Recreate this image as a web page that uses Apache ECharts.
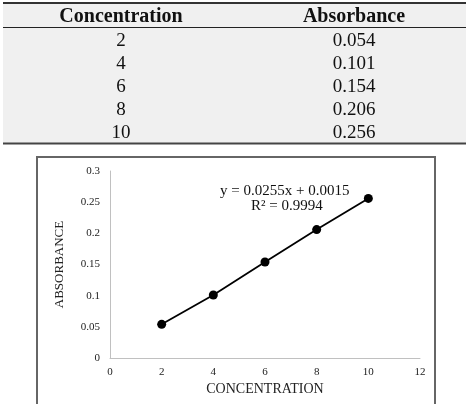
<!DOCTYPE html>
<html>
<head>
<meta charset="utf-8">
<script src="https://cdn.jsdelivr.net/npm/echarts@6/dist/echarts.min.js"></script>
<style>
  html, body { margin: 0; padding: 0; background: #fff; }
  #vis { width: 468px; height: 404px; }
</style>
</head>
<body>
<div id="vis"></div>
<script>
const tableHeaders = ['Concentration', 'Absorbance'];
const concentration = [2, 4, 6, 8, 10];
const absorbance = [0.054, 0.101, 0.154, 0.206, 0.256];
const absorbanceLabels = ['0.054', '0.101', '0.154', '0.206', '0.256'];
const equationText = 'y = 0.0255x + 0.0015';
const r2Text = 'R\u00b2 = 0.9994';

const serif = '"Liberation Serif", "Times New Roman", serif';
const chart = echarts.init(document.getElementById('vis'), null, { renderer: 'canvas' });

const points = concentration.map((c, i) => [c, absorbance[i]]);

// table drawn with graphic elements
const colX = [121, 354];
const tableGraphics = [
  { type: 'rect', shape: { x: 3, y: 3, width: 463, height: 141 }, style: { fill: '#f0f0f0' }, z: 0 },
  { type: 'line', shape: { x1: 3, y1: 3, x2: 466, y2: 3 }, style: { stroke: '#333', lineWidth: 2 } },
  { type: 'line', shape: { x1: 3, y1: 27.5, x2: 466, y2: 27.5 }, style: { stroke: '#222', lineWidth: 1 } },
  { type: 'line', shape: { x1: 3, y1: 143.5, x2: 466, y2: 143.5 }, style: { stroke: '#444', lineWidth: 2 } }
];
tableHeaders.forEach((h, j) => {
  tableGraphics.push({
    type: 'text', x: colX[j], y: 17,
    style: { text: h, fontFamily: serif, fontSize: 20, fontWeight: 'bold', fill: '#111', align: 'center', verticalAlign: 'middle' }
  });
});
concentration.forEach((c, i) => {
  const y = 41.5 + i * 22.8;
  [String(c), absorbanceLabels[i]].forEach((t, j) => {
    tableGraphics.push({
      type: 'text', x: colX[j], y: y,
      style: { text: t, fontFamily: serif, fontSize: 19, fill: '#111', align: 'center', verticalAlign: 'middle' }
    });
  });
});

const option = {
  animation: false,
  backgroundColor: '#fff',
  grid: { left: 110, top: 171, width: 310, height: 187 },
  xAxis: {
    type: 'value', min: 0, max: 12, interval: 2,
    name: 'CONCENTRATION', nameLocation: 'middle', nameGap: 24,
    nameTextStyle: { fontFamily: serif, fontSize: 14, color: '#222' },
    axisLine: { lineStyle: { color: '#c0c0c0', width: 1 } },
    axisTick: { show: false },
    splitLine: { show: false },
    axisLabel: { fontFamily: serif, fontSize: 11, color: '#222', margin: 9 }
  },
  yAxis: {
    type: 'value', min: 0, max: 0.3, interval: 0.05,
    name: 'ABSORBANCE', nameLocation: 'middle', nameGap: 44,
    nameTextStyle: { fontFamily: serif, fontSize: 13, color: '#222' },
    axisLine: { show: true, lineStyle: { color: '#c0c0c0', width: 1 } },
    axisTick: { show: false },
    splitLine: { show: false },
    axisLabel: { fontFamily: serif, fontSize: 11, color: '#222', margin: 10 }
  },
  graphic: tableGraphics.concat([
    // chart frame
    { type: 'rect', shape: { x: 37, y: 157, width: 398, height: 260 }, style: { fill: 'none', stroke: '#666', lineWidth: 2 } },
    { type: 'text', x: 220, y: 184, style: { text: equationText, fontFamily: serif, fontSize: 15, fill: '#111' } },
    { type: 'text', x: 251, y: 199, style: { text: r2Text, fontFamily: serif, fontSize: 15, fill: '#111' } }
  ]),
  series: [{
    type: 'line',
    data: points,
    symbol: 'circle',
    symbolSize: 9,
    itemStyle: { color: '#000' },
    lineStyle: { color: '#000', width: 1.8 }
  }]
};
chart.setOption(option);
</script>
</body>
</html>
